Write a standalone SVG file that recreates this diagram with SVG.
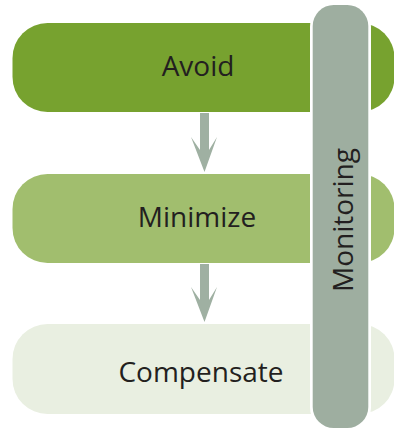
<svg xmlns="http://www.w3.org/2000/svg" width="394" height="429" viewBox="0 0 394 429">
<style>
.lbl{font-family:"Open Sans","Liberation Sans",sans-serif;font-size:28px;fill:#231F20;text-anchor:middle}
.arrow{fill:#9FB0A2}
</style>
<rect width="394" height="429" fill="#ffffff"/>
<g id="avoid">
<rect x="12.5" y="23" width="382" height="89" rx="35" ry="35" fill="#77A22F"/>
<text class="lbl" x="198" y="76">Avoid</text>
</g>
<g id="minimize">
<rect x="12.5" y="174" width="382" height="89" rx="35" ry="35" fill="#A1BE6E"/>
<text class="lbl" x="197" y="227">Minimize</text>
</g>
<g id="compensate">
<rect x="12.5" y="324" width="382" height="90" rx="35" ry="35" fill="#E9EFE1"/>
<text class="lbl" x="201" y="382">Compensate</text>
</g>
<g id="connectors">
<polygon class="arrow" points="200,113 209,113 209,150 217,137 204.5,172 191,137 200,150"/>
<polygon class="arrow" points="200,264 209,264 209,300 217,287 204.5,322 191,287 200,300"/>
</g>
<g id="monitoring">
<rect x="310" y="2.5" width="61" height="429" rx="24" ry="24" fill="#ffffff"/>
<rect x="312.7" y="5" width="55.6" height="423" rx="21" ry="21" fill="#9EAEA0"/>
<text class="lbl" transform="translate(352.5,220) rotate(-90)">Monitoring</text>
</g>
</svg>
